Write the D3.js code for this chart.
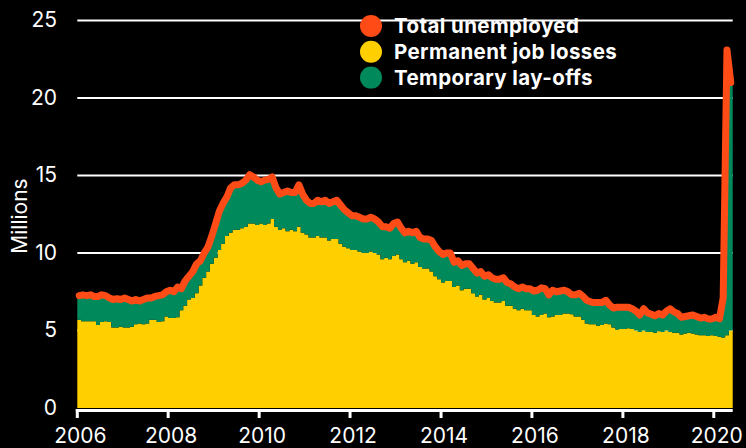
<!DOCTYPE html>
<html>
<head>
<meta charset="utf-8">
<script src="https://cdn.jsdelivr.net/npm/d3@7"></script>
<style>
  html, body { margin: 0; padding: 0; background: #000; }
  svg { display: block; }
  text { font-family: Inter, "Noto Sans", sans-serif; fill: #fff; }
</style>
</head>
<body>
<svg id="chart" width="746" height="448"></svg>
<script>
// Monthly data, Jan 2006 .. May 2020 (millions)
const startMonth = "2006-01";
const totalUnemployed = [
  7.25,7.3,7.25,7.3,7.2,7.2,7.3,7.25,7.1,7.0,7.05,7.0,
  7.1,7.0,6.9,7.0,6.9,7.0,7.1,7.1,7.2,7.25,7.3,7.5,
  7.6,7.5,7.8,7.7,8.2,8.5,8.8,9.3,9.5,10.0,10.4,11.1,
  11.9,12.7,13.2,13.6,14.2,14.4,14.4,14.5,14.7,15.05,14.9,14.7,
  14.6,14.7,14.75,14.9,14.2,13.8,13.9,14.0,13.9,13.9,14.4,13.8,
  13.4,13.2,13.2,13.4,13.3,13.4,13.2,13.3,13.4,13.1,12.8,12.6,
  12.4,12.4,12.3,12.2,12.2,12.3,12.2,12.0,11.7,11.7,11.6,11.9,
  12.0,11.6,11.3,11.4,11.3,11.4,11.0,10.9,10.9,10.8,10.4,10.1,
  9.9,10.0,10.0,9.4,9.5,9.2,9.3,9.3,9.0,8.7,8.8,8.5,
  8.6,8.4,8.3,8.3,8.4,8.1,8.0,7.8,7.7,7.8,7.7,7.7,
  7.55,7.6,7.75,7.7,7.3,7.6,7.5,7.55,7.6,7.5,7.3,7.3,
  7.4,7.2,6.95,6.85,6.8,6.8,6.8,6.95,6.65,6.45,6.5,6.5,
  6.5,6.5,6.4,6.25,6.0,6.4,6.15,6.05,5.95,6.1,6.0,6.25,
  6.4,6.2,6.1,5.85,5.9,5.95,6.0,5.9,5.8,5.85,5.75,5.75,
  5.85,5.75,7.1,23.1,21.0
];
const permanentJobLosses = [
  5.7,5.6,5.6,5.6,5.6,5.35,5.55,5.6,5.55,5.2,5.2,5.25,
  5.2,5.2,5.25,5.4,5.45,5.4,5.45,5.7,5.7,5.55,5.6,5.9,
  5.8,5.8,5.85,6.3,6.6,7.0,7.1,7.4,7.9,8.4,8.8,9.3,
  9.7,10.2,10.6,11.1,11.3,11.5,11.5,11.6,11.7,11.9,11.9,11.8,
  11.9,11.8,11.9,12.2,11.7,11.5,11.6,11.4,11.5,11.4,11.7,11.3,
  11.2,11.0,11.0,11.1,11.0,11.0,10.8,10.9,10.9,10.6,10.4,10.3,
  10.2,10.2,10.1,10.0,10.0,10.1,10.0,9.9,9.6,9.7,9.6,9.8,
  9.9,9.6,9.4,9.5,9.3,9.4,9.1,9.0,9.0,8.8,8.5,8.3,
  8.1,8.2,8.2,7.8,7.9,7.6,7.7,7.7,7.4,7.2,7.3,7.0,
  7.1,6.9,6.8,6.8,6.9,6.6,6.6,6.4,6.3,6.4,6.3,6.3,
  6.0,5.9,6.0,6.1,5.85,5.9,6.0,6.0,6.1,6.1,6.05,5.9,
  5.9,5.7,5.45,5.4,5.4,5.3,5.35,5.45,5.4,5.2,5.05,5.1,
  5.1,5.15,5.1,5.0,4.9,5.0,4.9,4.9,4.85,4.95,4.9,5.0,
  4.9,4.85,4.85,4.75,4.8,4.85,4.8,4.75,4.7,4.7,4.65,4.7,
  4.65,4.6,4.55,4.7,5.0
];
const temporaryLayoffs = [
  1.55,1.7,1.65,1.7,1.6,1.85,1.75,1.65,1.55,1.8,1.85,1.75,
  1.9,1.8,1.65,1.6,1.45,1.6,1.65,1.4,1.5,1.7,1.7,1.6,
  1.8,1.7,1.95,1.4,1.6,1.5,1.7,1.9,1.6,1.6,1.6,1.8,
  2.2,2.5,2.6,2.5,2.9,2.9,2.9,2.9,3.0,3.15,3.0,2.9,
  2.7,2.9,2.85,2.7,2.5,2.3,2.3,2.6,2.4,2.5,2.7,2.5,
  2.2,2.2,2.2,2.3,2.3,2.4,2.4,2.4,2.5,2.5,2.4,2.3,
  2.2,2.2,2.2,2.2,2.2,2.2,2.2,2.1,2.1,2.0,2.0,2.1,
  2.1,2.0,1.9,1.9,2.0,2.0,1.9,1.9,1.9,2.0,1.9,1.8,
  1.8,1.8,1.8,1.6,1.6,1.6,1.6,1.6,1.6,1.5,1.5,1.5,
  1.5,1.5,1.5,1.5,1.5,1.5,1.4,1.4,1.4,1.4,1.4,1.4,
  1.55,1.7,1.75,1.6,1.45,1.7,1.5,1.55,1.5,1.4,1.25,1.4,
  1.5,1.5,1.5,1.45,1.4,1.5,1.45,1.5,1.25,1.25,1.45,1.4,
  1.4,1.35,1.3,1.25,1.1,1.4,1.25,1.15,1.1,1.15,1.1,1.25,
  1.5,1.35,1.25,1.1,1.1,1.1,1.2,1.15,1.1,1.15,1.1,1.05,
  1.2,1.15,2.55,18.4,16.0
];
const yTicks = [0, 5, 10, 15, 20, 25];
const xTickYears = [2006, 2008, 2010, 2012, 2014, 2016, 2018, 2020];
const seriesNames = ["Total unemployed", "Permanent job losses", "Temporary lay-offs"];
const seriesColors = ["#ff4c17", "#ffcf00", "#008a5c"];

const svg = d3.select("#chart");
const parse = d3.timeParse("%Y-%m");
const start = parse(startMonth);
const data = totalUnemployed.map((t, i) => ({
  date: d3.timeMonth.offset(start, i),
  total: t,
  perm: permanentJobLosses[i],
  temp: temporaryLayoffs[i]
}));
const endDate = d3.timeMonth.offset(start, data.length);

const left = 77.3, right = 732.7;
const x = d3.scaleTime().domain([start, endDate]).range([left, right]);
const y = d3.scaleLinear().domain([0, 25]).range([408, 20.5]);

// gridlines
svg.append("g").selectAll("line")
  .data(yTicks.filter(v => v > 0))
  .join("line")
  .attr("x1", left).attr("x2", right)
  .attr("y1", d => y(d)).attr("y2", d => y(d))
  .attr("stroke", "#fff").attr("stroke-width", 2);

// stacked monthly columns drawn as step areas (no seams between months)
const stack = d3.stack().keys(["perm", "temp"])(data);
const layerColors = { perm: seriesColors[1], temp: seriesColors[2] };
const stepArea = d3.area()
  .curve(d3.curveStepAfter)
  .x(d => x(d.date))
  .y0(d => y(d.y0))
  .y1(d => y(d.y1));
svg.append("g").selectAll("path")
  .data(stack)
  .join("path")
  .attr("fill", s => layerColors[s.key])
  .attr("d", s => {
    const pts = s.map(d => ({ date: d.data.date, y0: d[0], y1: d[1] }));
    const last = pts[pts.length - 1];
    pts.push({ date: endDate, y0: last.y0, y1: last.y1 });
    return stepArea(pts);
  });

// total line
const mid = d => new Date((d.date.getTime() + d3.timeMonth.offset(d.date, 1).getTime()) / 2);
svg.append("path")
  .datum(data)
  .attr("fill", "none")
  .attr("stroke", seriesColors[0])
  .attr("stroke-width", 7)
  .attr("stroke-linejoin", "round")
  .attr("stroke-linecap", "round")
  .attr("d", d3.line().x(d => x(mid(d))).y(d => y(d.total)));

// y labels
svg.append("g").selectAll("text")
  .data(yTicks)
  .join("text")
  .attr("x", 57)
  .attr("y", d => y(d) + 1)
  .attr("text-anchor", "end")
  .attr("dominant-baseline", "middle")
  .attr("font-size", 21)
  .text(d => d);

svg.append("text")
  .attr("transform", "translate(27,216) rotate(-90)")
  .attr("text-anchor", "middle")
  .attr("font-size", 21)
  .text("Millions");

// x axis
svg.append("line")
  .attr("x1", left - 1.5).attr("x2", right)
  .attr("y1", 410.5).attr("y2", 410.5)
  .attr("stroke", "#fff").attr("stroke-width", 3);
const xt = svg.append("g").selectAll("g")
  .data(xTickYears)
  .join("g")
  .attr("transform", d => `translate(${x(new Date(d, 0, 1))},0)`);
xt.append("line")
  .attr("y1", 409).attr("y2", 418)
  .attr("stroke", "#fff").attr("stroke-width", 3);
xt.append("text")
  .attr("x", 3)
  .attr("y", 443)
  .attr("text-anchor", "middle")
  .attr("font-size", 21)
  .text(d => d);

// legend
const lg = svg.append("g").selectAll("g")
  .data(seriesNames)
  .join("g")
  .attr("transform", (d, i) => `translate(371,${26 + i * 25.8})`);
lg.append("circle").attr("r", 11).attr("fill", (d, i) => seriesColors[i]);
lg.append("text")
  .attr("x", 23)
  .attr("y", 7)
  .attr("font-size", 20.5)
  .attr("font-weight", 700)
  .attr("letter-spacing", 0.4)
  .text(d => d);
</script>
</body>
</html>
